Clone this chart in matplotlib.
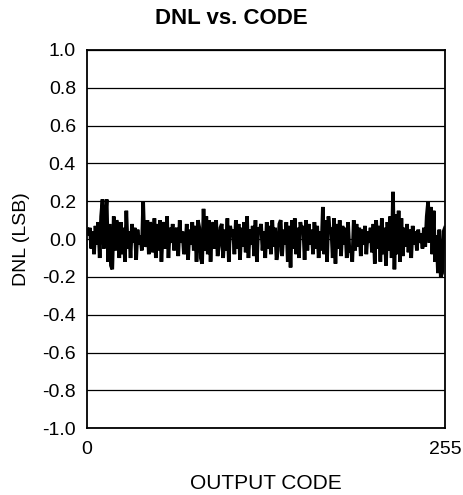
import matplotlib
matplotlib.use("Agg")
import matplotlib.pyplot as plt
import numpy as np

plt.rcParams['font.family'] = ['Liberation Sans', 'DejaVu Sans']

# DNL per output code (codes 0..255)
dnl = [
    0.05, 0.02, 0.06, -0.05, 0.04, -0.08, 0.07, -0.03, 0.09, -0.10, 0.12, 0.21, -0.05, 0.10, 0.21, -0.12,
    0.08, -0.14, -0.16, 0.12, -0.06, 0.10, 0.06, -0.10, 0.09, -0.08, 0.06, -0.12, 0.15, -0.05, 0.04, -0.10,
    0.08, -0.02, 0.06, -0.11, 0.05, -0.03, 0.02, -0.06, 0.20, -0.04, -0.02, 0.10, -0.08, 0.09, 0.04, -0.07,
    0.11, -0.10, 0.08, -0.06, 0.10, -0.12, 0.04, 0.09, -0.05, 0.12, -0.10, 0.06, -0.02, 0.08, -0.06, 0.03,
    0.06, -0.09, 0.10, -0.02, 0.04, -0.08, -0.05, 0.08, -0.11, 0.05, -0.03, 0.09, -0.06, 0.07, -0.12, 0.10,
    0.06, -0.10, -0.13, 0.16, -0.06, 0.12, -0.08, 0.10, -0.12, 0.04, 0.09, -0.05, 0.10, -0.09, -0.04, 0.06,
    0.08, -0.10, 0.05, -0.06, 0.11, -0.12, 0.07, 0.02, 0.05, -0.08, 0.10, -0.05, 0.08, -0.11, 0.06, -0.04,
    0.09, -0.07, 0.12, -0.10, 0.05, -0.03, 0.07, -0.09, 0.10, -0.12, 0.06, 0.04, 0.08, -0.06, 0.04, -0.10,
    0.09, -0.05, 0.07, -0.08, 0.10, -0.04, 0.06, -0.11, -0.06, 0.08, 0.10, -0.09, 0.05, -0.03, 0.09, -0.12,
    0.07, -0.15, 0.10, -0.05, 0.11, -0.08, 0.06, -0.10, 0.09, 0.04, 0.07, -0.11, 0.10, -0.06, 0.08, -0.03,
    0.05, -0.08, 0.09, -0.05, 0.07, -0.10, 0.04, -0.06, 0.17, -0.08, 0.10, -0.12, 0.12, 0.04, 0.06, -0.10,
    0.11, -0.13, 0.08, -0.05, 0.10, -0.09, 0.07, -0.03, 0.06, -0.10, 0.09, -0.07, -0.05, -0.12, 0.10, -0.06,
    0.08, -0.04, 0.06, -0.09, 0.05, -0.03, 0.07, -0.08, 0.04, -0.02, 0.06, -0.07, 0.08, -0.13, 0.10, -0.05,
    0.07, -0.12, 0.11, -0.08, 0.06, -0.14, 0.09, -0.06, 0.12, -0.10, 0.25, -0.16, 0.13, -0.08, 0.15, -0.12,
    0.11, -0.09, 0.06, -0.04, 0.08, -0.07, 0.05, -0.10, 0.07, -0.03, 0.04, -0.06, 0.05, -0.02, 0.03, -0.05,
    0.06, -0.04, 0.12, 0.20, -0.02, 0.17, -0.08, 0.15, -0.12, 0.02, -0.18, 0.05, -0.20, -0.18, 0.04, 0.06,
]
codes = np.arange(len(dnl))

y_ticks = [-1.0, -0.8, -0.6, -0.4, -0.2, 0.0, 0.2, 0.4, 0.6, 0.8, 1.0]
x_ticks = [0, 255]

fig = plt.figure(figsize=(4.63, 4.95), dpi=100)
ax = fig.add_axes([0.188, 0.135, 0.773, 0.764])

ax.plot(codes, dnl, color='black', lw=2.6, solid_joinstyle='miter')

ax.set_xlim(0, 255)
ax.set_ylim(-1.0, 1.0)
ax.set_yticks(y_ticks)
ax.set_yticklabels([f"{v:.1f}" for v in y_ticks])
ax.set_xticks(x_ticks)
ax.grid(axis='y', color='black', lw=0.9)
ax.set_axisbelow(True)
ax.tick_params(length=0, labelsize=14, pad=8)
ax.tick_params(axis='x', pad=9)
for s in ax.spines.values():
    s.set_linewidth(1.3)

ax.set_xlabel("OUTPUT CODE", fontsize=15, labelpad=12)
ax.set_ylabel("DNL (LSB)", fontsize=14, labelpad=9)
fig.text(0.5, 0.962, "DNL vs. CODE", ha='center', va='center', fontsize=16, fontweight='bold')

fig.savefig("out.png", dpi=100)
